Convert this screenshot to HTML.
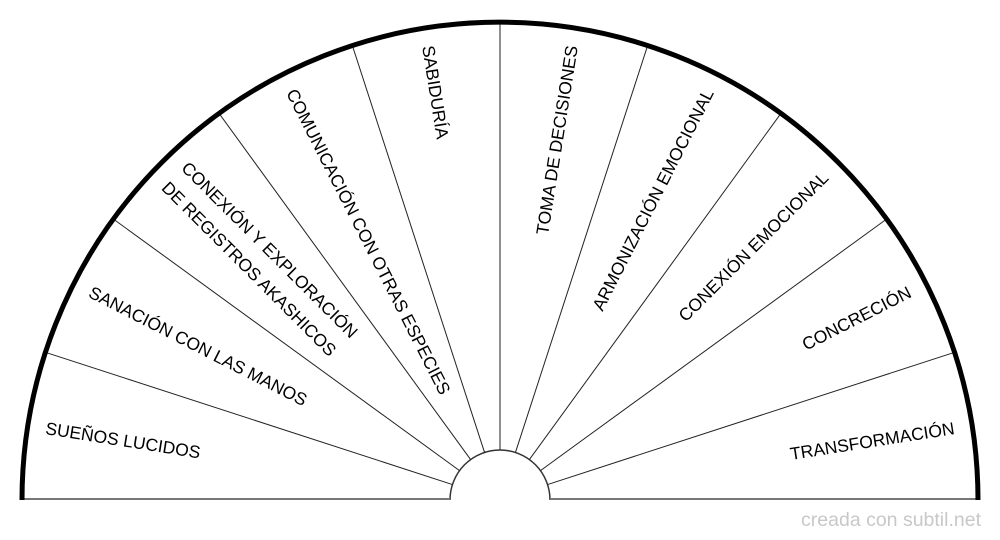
<!DOCTYPE html>
<html><head><meta charset="utf-8"><style>
html,body{margin:0;padding:0;background:#fff;}
svg{display:block;}
text{font-family:"Liberation Sans",Arial,sans-serif;font-size:17.5px;fill:#000;}
</style></head><body>
<svg width="1000" height="540" viewBox="0 0 1000 540" xmlns="http://www.w3.org/2000/svg">
<rect width="1000" height="540" fill="#fff"/>
<g stroke="#222" stroke-width="1" fill="none">
<path d="M450,500 A50,50 0 0 1 550,500" stroke="#333" stroke-width="1.5"/>
<line x1="547.55" y1="484.55" x2="954.6" y2="352.3"/>
<line x1="540.45" y1="470.61" x2="886.7" y2="219.0"/>
<line x1="529.39" y1="459.55" x2="781" y2="113.3"/>
<line x1="515.45" y1="452.45" x2="647.7" y2="45.4"/>
<line x1="500" y1="450" x2="500" y2="22"/>
<line x1="484.55" y1="452.45" x2="352.3" y2="45.4"/>
<line x1="470.61" y1="459.55" x2="219" y2="113.3"/>
<line x1="459.55" y1="470.61" x2="113.3" y2="219.0"/>
<line x1="452.45" y1="484.55" x2="45.4" y2="352.3"/>
</g>
<line x1="22" y1="499" x2="450" y2="499" stroke="#777" stroke-width="2"/>
<line x1="550" y1="499" x2="978" y2="499" stroke="#777" stroke-width="2"/>
<path d="M22,500 A478,478 0 0 1 978,500" stroke="#000" stroke-width="5" fill="none"/>

<g transform="translate(500,500)">
<g transform="rotate(9)"><text x="-460" y="6">SUEÑOS LUCIDOS</text></g>
<g transform="rotate(27)"><text x="-460" y="6">SANACIÓN CON LAS MANOS</text></g>
<g transform="rotate(45)"><text x="-460" y="-8">CONEXIÓN Y EXPLORACIÓN</text><text x="-460" y="20">DE REGISTROS AKASHICOS</text></g>
<g transform="rotate(63)"><text x="-460" y="6">COMUNICACIÓN CON OTRAS ESPECIES</text></g>
<g transform="rotate(81)"><text x="-460" y="6">SABIDURÍA</text></g>
<g transform="rotate(279)"><text x="460" y="6" text-anchor="end">TOMA DE DECISIONES</text></g>
<g transform="rotate(297)"><text x="460" y="6" text-anchor="end">ARMONIZACIÓN EMOCIONAL</text></g>
<g transform="rotate(315)"><text x="460" y="6" text-anchor="end">CONEXIÓN EMOCIONAL</text></g>
<g transform="rotate(333)"><text x="460" y="6" text-anchor="end">CONCRECIÓN</text></g>
<g transform="rotate(351)"><text x="460" y="6" text-anchor="end">TRANSFORMACIÓN</text></g>
</g>
<text x="981" y="526" text-anchor="end" style="fill:#c8c8c8;font-size:19.5px">creada con subtil.net</text>
</svg>
</body></html>
